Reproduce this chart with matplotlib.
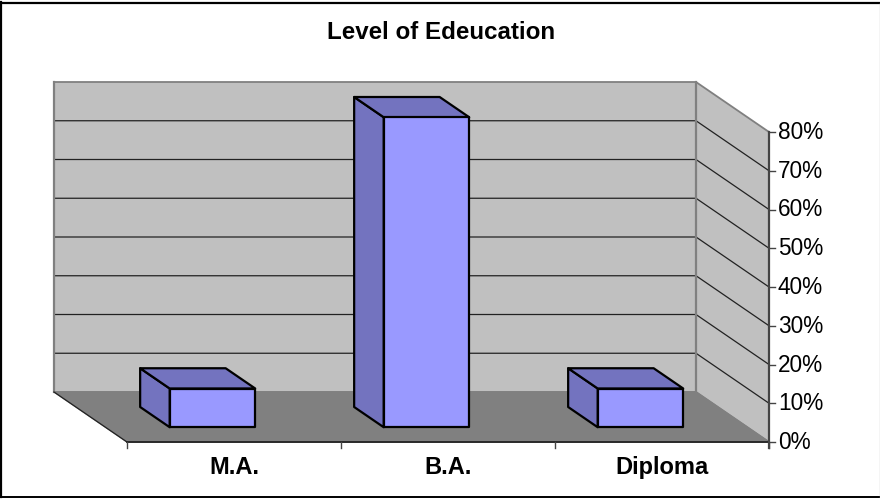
"""
Level of education, 3D style column chart drawn on a flat pixel axes
"""

import matplotlib
matplotlib.use('Agg')
import matplotlib.pyplot as plt
from matplotlib.patches import Polygon

plt.rcParams['font.family'] = ['Liberation Sans', 'DejaVu Sans']

# Data
categories = ['M.A.', 'B.A.', 'Diploma']
values = [10, 80, 10]
y_ticks = [0, 10, 20, 30, 40, 50, 60, 70, 80]
title = 'Level of Edeucation'

# Colours
WALL = '#C0C0C0'
FLOOR = '#808080'
FRONT = '#9999FF'
SHADE = '#7373BF'

# Projection, all in figure pixels
X_LEFT, X_RIGHT = 127, 769
Y_ZERO = 442
PX_PER_PCT = 3.875
DEPTH_X, DEPTH_Y = 73, 50
CAT_W = (X_RIGHT - X_LEFT) / len(categories)
BAR_W = 85.5


def proj(x, pct, depth=0.0):
    """Front axis x (pixels) + value + depth (0 front, 1 back) to pixels"""
    return (x - DEPTH_X * depth, Y_ZERO - pct * PX_PER_PCT - DEPTH_Y * depth)


def draw_bar(ax, center, val):
    d0, d1 = 0.295, 0.70
    x0, x1 = center - BAR_W / 2, center + BAR_W / 2
    kw = dict(edgecolor='black', linewidth=1.6, joinstyle='round', zorder=5)
    # left side
    ax.add_patch(Polygon([proj(x0, 0, d0), proj(x0, val, d0), proj(x0, val, d1), proj(x0, 0, d1)],
                         facecolor=SHADE, **kw))
    # top
    ax.add_patch(Polygon([proj(x0, val, d0), proj(x1, val, d0), proj(x1, val, d1), proj(x0, val, d1)],
                         facecolor=SHADE, **kw))
    # front
    ax.add_patch(Polygon([proj(x0, 0, d0), proj(x1, 0, d0), proj(x1, val, d0), proj(x0, val, d0)],
                         facecolor=FRONT, **kw))


fig = plt.figure(figsize=(8.8, 4.99), dpi=100)
ax = fig.add_axes([0, 0, 1, 1])
ax.set_xlim(0, 880)
ax.set_ylim(499, 0)
ax.axis('off')

# Outer frame, right side is a thin grey line in the original
ax.plot([1, 1], [2, 497], color='black', linewidth=1.6, zorder=0)
ax.plot([0, 879], [3, 3], color='black', linewidth=1.6, zorder=0)
ax.plot([0, 879], [497, 497], color='black', linewidth=1.4, zorder=0)
ax.plot([879.5, 879.5], [3, 497], color='#B0B0B0', linewidth=0.9, zorder=0)

top = y_ticks[-1]
# Back wall, side wall, floor
ax.add_patch(Polygon([proj(X_LEFT, 0, 1), proj(X_RIGHT, 0, 1), proj(X_RIGHT, top, 1), proj(X_LEFT, top, 1)],
                     facecolor=WALL, edgecolor=FLOOR, linewidth=1.3, zorder=1))
ax.add_patch(Polygon([proj(X_RIGHT, 0, 1), proj(X_RIGHT, 0, 0), proj(X_RIGHT, top, 0), proj(X_RIGHT, top, 1)],
                     facecolor=WALL, edgecolor=FLOOR, linewidth=1.3, zorder=1))
ax.add_patch(Polygon([proj(X_LEFT, 0, 0), proj(X_RIGHT, 0, 0), proj(X_RIGHT, 0, 1), proj(X_LEFT, 0, 1)],
                     facecolor=FLOOR, edgecolor=FLOOR, linewidth=1.0, zorder=2))

# Gridlines along back and side wall
for t in y_ticks[1:-1]:
    p0, p1, p2 = proj(X_LEFT, t, 1), proj(X_RIGHT, t, 1), proj(X_RIGHT, t, 0)
    ax.plot([p0[0], p1[0], p2[0]], [p0[1], p1[1], p2[1]], color='#222222', linewidth=0.9, zorder=3)

# Redraw wall corner and floor diagonal
c0, c1 = proj(X_RIGHT, 0, 1), proj(X_RIGHT, top, 1)
ax.plot([c0[0], c1[0]], [c0[1], c1[1]], color=FLOOR, linewidth=1.6, zorder=3)
c0, c1 = proj(X_LEFT, 0, 1), proj(X_LEFT, top, 1)
ax.plot([c0[0], c1[0]], [c0[1], c1[1]], color=FLOOR, linewidth=1.6, zorder=3)
ax.plot(*zip(proj(X_LEFT, 0, 1), proj(X_LEFT, 0, 0)), color='#222222', linewidth=0.9, zorder=3)

# Axes lines and ticks
ax.plot([X_LEFT, X_RIGHT], [Y_ZERO, Y_ZERO], color='#222222', linewidth=1.3, zorder=4)
ax.plot([X_RIGHT, X_RIGHT], [proj(X_RIGHT, top)[1], Y_ZERO + 6], color='#444444', linewidth=1.6, zorder=4)
for i in range(len(categories) + 1):
    tx = X_LEFT + i * CAT_W
    ax.plot([tx, tx], [Y_ZERO, Y_ZERO + 6], color='#444444', linewidth=1.0, zorder=4)
for t in y_ticks:
    ty = proj(X_RIGHT, t)[1]
    ax.plot([X_RIGHT, X_RIGHT + 6], [ty, ty], color='#444444', linewidth=1.0, zorder=4)
    ax.text(X_RIGHT + 9, ty + 7, f'{t}%', fontsize=16.3, color='black', ha='left', va='baseline', zorder=6)

# Bars
for i, (cat, val) in enumerate(zip(categories, values)):
    center = X_LEFT + (i + 0.5) * CAT_W
    draw_bar(ax, center, val)
    ax.text(center, 474, cat, fontsize=17, fontweight='bold', ha='center', va='baseline', zorder=6)

ax.text(441, 39, title, fontsize=17.4, fontweight='bold', ha='center', va='baseline', zorder=6)

fig.savefig('out.png', dpi=100)
